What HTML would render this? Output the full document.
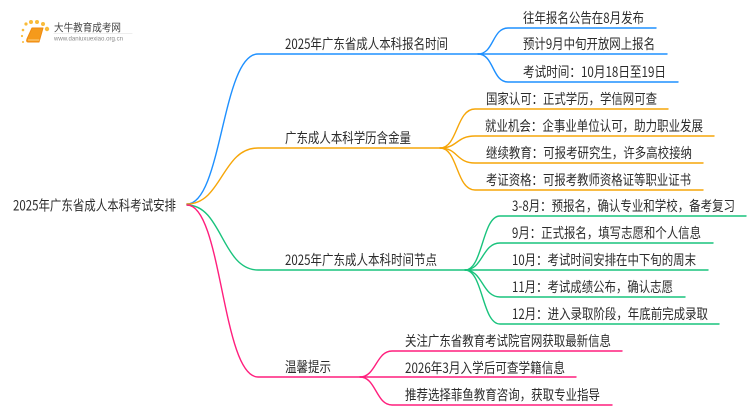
<!DOCTYPE html>
<html lang="zh">
<head>
<meta charset="utf-8">
<title>2025年广东省成人本科考试安排</title>
<style>
html,body{margin:0;padding:0;background:#fff;width:750px;height:410px;overflow:hidden}
svg{display:block}
text{font-family:"Noto Sans CJK SC","Liberation Sans",sans-serif;font-size:14px;fill:#2b2b2b;transform:translateY(-.7px)}
path{fill:none;stroke-linecap:round}
</style>
</head>
<body>
<svg width="750" height="410" viewBox="0 0 750 410" xmlns="http://www.w3.org/2000/svg">
<!-- logo -->
<g>
<g fill="#f9bb3a">
<circle cx="26" cy="24" r="1.6"/>
<circle cx="31" cy="22" r="2"/><circle cx="37" cy="22" r="2"/>
<circle cx="43" cy="24" r="2"/><circle cx="47" cy="29" r="2.2"/>
<circle cx="23" cy="30" r="1.3"/><circle cx="22" cy="36" r="1.1"/><circle cx="23" cy="42" r="1"/>
</g>
<path d="M32 28 H43 L39 42 H28 Q26 42 27 39 Z" style="fill:#f59a1b;stroke:#ef8a10;stroke-width:1;stroke-linejoin:round"/>
<path d="M28.500 40 H39" style="stroke:#fbd38a;stroke-width:1"/>
<text x="54" y="31.500" textLength="67" lengthAdjust="spacingAndGlyphs" style="font-size:10.500px;fill:#444">大牛教育成考网</text>
<path d="M54 33.500 H132" style="stroke:#eee;stroke-width:1"/>
<text x="54" y="41" textLength="69" lengthAdjust="spacingAndGlyphs" style="font-size:6px;fill:#888;font-family:'Liberation Sans',sans-serif">www.daniuxuexiao.org.cn</text>
</g>

<!-- blue -->
<g style="stroke:#1e90ff;stroke-width:1.4">
<path d="M187 204 C222 204 222 54 258 54 H478"/>
<path d="M478 54 C494 54 492 28 508 28 H656"/>
<path d="M478 54 H667"/>
<path d="M478 54 C494 54 492 82 508 82 H678"/>
</g>
<!-- orange -->
<g style="stroke:#f6a609;stroke-width:1.4">
<path d="M187 204 C222 204 222 148 258 148 H440"/>
<path d="M440 148 C458 148 456 109 475 109 H668"/>
<path d="M440 148 C458 148 456 136 475 136 H714"/>
<path d="M440 148 C458 148 456 163 475 163 H703"/>
<path d="M440 148 C458 148 456 190 475 190 H703"/>
</g>
<!-- green -->
<g style="stroke:#19c37d;stroke-width:1.4">
<path d="M187 205 C222 205 222 270 258 270 H465"/>
<path d="M465 270 C483 270 482 216 500 216 H746"/>
<path d="M465 270 C483 270 482 243 500 243 H713"/>
<path d="M465 270 H708"/>
<path d="M465 270 C483 270 482 297 500 297 H685"/>
<path d="M465 270 C483 270 482 324 500 324 H719"/>
</g>
<!-- pink -->
<g style="stroke:#ff1f7d;stroke-width:1.4">
<path d="M187 205 C222 205 222 377 258 377 H360"/>
<path d="M360 377 C376 377 376 351 392 351 H622"/>
<path d="M360 377 H576"/>
<path d="M360 377 C376 377 376 405 392 405 H612"/>
</g>

<!-- root -->
<text x="13" y="211" textLength="163" lengthAdjust="spacingAndGlyphs">2025年广东省成人本科考试安排</text>

<!-- branches -->
<text x="285" y="49.500" textLength="163" lengthAdjust="spacingAndGlyphs">2025年广东省成人本科报名时间</text>
<text x="285" y="143.500" textLength="126" lengthAdjust="spacingAndGlyphs">广东成人本科学历含金量</text>
<text x="285" y="265.500" textLength="152" lengthAdjust="spacingAndGlyphs">2025年广东成人本科时间节点</text>
<text x="285" y="372.500" textLength="46" lengthAdjust="spacingAndGlyphs">温馨提示</text>

<!-- blue leaves -->
<text x="523" y="23.500" textLength="121" lengthAdjust="spacingAndGlyphs">往年报名公告在8月发布</text>
<text x="523" y="49.500" textLength="132" lengthAdjust="spacingAndGlyphs">预计9月中旬开放网上报名</text>
<text x="523" y="77.500" textLength="143" lengthAdjust="spacingAndGlyphs">考试时间：10月18日至19日</text>

<!-- orange leaves -->
<text x="486" y="104.500" textLength="171" lengthAdjust="spacingAndGlyphs">国家认可：正式学历，学信网可查</text>
<text x="485" y="131.500" textLength="218" lengthAdjust="spacingAndGlyphs">就业机会：企事业单位认可，助力职业发展</text>
<text x="486" y="158.500" textLength="206" lengthAdjust="spacingAndGlyphs">继续教育：可报考研究生，许多高校接纳</text>
<text x="486" y="185.500" textLength="205" lengthAdjust="spacingAndGlyphs">考证资格：可报考教师资格证等职业证书</text>

<!-- green leaves -->
<text x="512" y="211.500" textLength="223" lengthAdjust="spacingAndGlyphs">3-8月：预报名，确认专业和学校，备考复习</text>
<text x="512" y="238.500" textLength="189" lengthAdjust="spacingAndGlyphs">9月：正式报名，填写志愿和个人信息</text>
<text x="512" y="265.500" textLength="184" lengthAdjust="spacingAndGlyphs">10月：考试时间安排在中下旬的周末</text>
<text x="512" y="292.500" textLength="161" lengthAdjust="spacingAndGlyphs">11月：考试成绩公布，确认志愿</text>
<text x="512" y="319.500" textLength="196" lengthAdjust="spacingAndGlyphs">12月：进入录取阶段，年底前完成录取</text>

<!-- pink leaves -->
<text x="405" y="346.500" textLength="206" lengthAdjust="spacingAndGlyphs">关注广东省教育考试院官网获取最新信息</text>
<text x="405" y="373.500" textLength="160" lengthAdjust="spacingAndGlyphs">2026年3月入学后可查学籍信息</text>
<text x="405" y="400.500" textLength="195" lengthAdjust="spacingAndGlyphs">推荐选择菲鱼教育咨询，获取专业指导</text>
</svg>
</body>
</html>
